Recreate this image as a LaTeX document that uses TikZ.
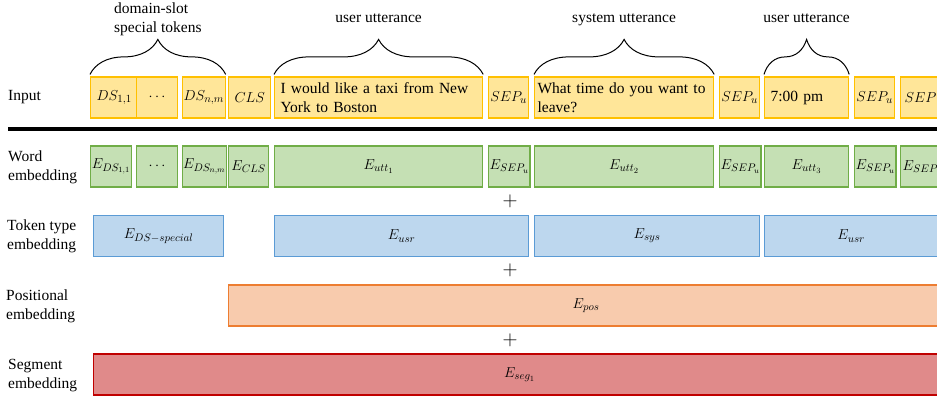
\documentclass[tikz,border=0pt]{standalone}
\usepackage{fontspec}
\setmainfont{Liberation Serif}
\DeclareMathSizes{15.5}{14.4}{10.95}{8}
\usetikzlibrary{positioning, decorations.pathreplacing}

\definecolor{inputfill}{HTML}{FFE699}
\definecolor{inputdraw}{HTML}{FFC000}
\definecolor{wordfill}{HTML}{C5E0B4}
\definecolor{worddraw}{HTML}{70AD47}
\definecolor{typefill}{HTML}{BDD7EE}
\definecolor{typedraw}{HTML}{5B9BD5}
\definecolor{posfill}{HTML}{F8CBAD}
\definecolor{posdraw}{HTML}{ED7D31}
\definecolor{segfill}{HTML}{E08A8A}
\definecolor{segdraw}{HTML}{C00000}

\begin{document}
\begin{tikzpicture}[x=1pt, y=-1pt, font=\fontsize{15.5}{19}\selectfont,
    box/.style={minimum height=41pt, inner xsep=6pt, inner ysep=1pt, line width=1.2pt, anchor=west},
    inbox/.style={box, draw=inputdraw, fill=inputfill},
    wordbox/.style={box, draw=worddraw, fill=wordfill},
    typebox/.style={box, draw=typedraw, fill=typefill},
    posbox/.style={box, draw=posdraw, fill=posfill},
    segbox/.style={box, draw=segdraw, fill=segfill},
    rowlabel/.style={anchor=west, align=left, inner sep=0pt},
    brace/.style={decorate, decoration={brace, amplitude=35pt}, line width=1pt},
    bracelabel/.style={above=49pt, inner sep=0pt, text depth=0.25em},
    dslabel/.style={above=38pt, inner sep=0pt, align=left},
    plus/.style={font=\fontsize{20}{20}\selectfont}]
  \useasboundingbox (0,0) rectangle (937,400);

  % row labels
  \node[rowlabel] (lin)   at (8,97.5)  {Input};
  \node[rowlabel] (lword) at (8,167)   {Word\\embedding};
  \node[rowlabel] (ltype) at (7,236.5) {Token type\\embedding};
  \node[rowlabel] (lpos)  at (6,306)   {Positional\\embedding};
  \node[rowlabel] (lseg)  at (8,375.5) {Segment\\embedding};

  % input tokens
  \node[inbox, minimum width=41pt] (ds11) at (90,97.5)  {$DS_{1,1}$};
  \node[inbox, minimum width=41pt] (dsdots) at (136,97.5) {$\cdots$};
  \node[inbox, minimum width=41pt, inner xsep=1pt] (dsnm) at (182,97.5) {$DS_{n,m}$};
  \node[inbox, minimum width=40pt] (cls) at (228,97.5) {$CLS$};
  \node[inbox, text width=196pt, align=left] (utt1) at (274,97.5) {I would like a taxi from New\\York to Boston};
  \node[inbox, minimum width=40pt, inner xsep=1pt] (sep1) at (488,97.5) {$SEP_u$};
  \node[inbox, inner xsep=3pt, text width=173pt, align=left] (utt2) at (534,97.5) {What time do you want to\\leave?};
  \node[inbox, minimum width=40pt, inner xsep=1pt] (sep2) at (719,97.5) {$SEP_u$};
  \node[inbox, text width=72pt, align=left] (utt3) at (764,97.5) {7:00 pm};
  \node[inbox, minimum width=40pt, inner xsep=1pt] (sep3) at (854,97.5) {$SEP_u$};
  \node[inbox, minimum width=50pt, inner xsep=4pt, text width=42pt, align=left] (sep4) at (900,97.5) {$SEP$};

  % braces over the input
  \draw[brace] ([yshift=2pt]ds11.north west) -- node[dslabel] {domain-slot\\special tokens} ([yshift=2pt]dsnm.north east);
  \draw[brace] ([yshift=2pt]utt1.north west) -- node[bracelabel] {user utterance} ([yshift=2pt]utt1.north east);
  \draw[brace] ([yshift=2pt]utt2.north west) -- node[bracelabel] {system utterance} ([yshift=2pt]utt2.north east);
  \draw[brace] ([yshift=2pt]utt3.north west) -- node[bracelabel] {user utterance} ([yshift=2pt]utt3.north east);

  % separator
  \draw[line width=4pt] (8,128.5) -- (945,128.5);

  % word embedding
  \node[wordbox, minimum width=41pt, inner xsep=1pt] (eds11) at (90,166.5) {$E_{DS_{1,1}}$};
  \node[wordbox, minimum width=41pt] (edsdots) at (136,166.5) {$\cdots$};
  \node[wordbox, minimum width=41pt, inner xsep=0.5pt] (edsnm) at (182,166.5) {$E_{DS_{n,m}}$};
  \node[wordbox, minimum width=40pt, inner xsep=1pt] (ecls) at (228,166.5) {$E_{CLS}$};
  \node[wordbox, minimum width=208pt] (eutt1) at (274,166.5) {$E_{utt_1}$};
  \node[wordbox, minimum width=40pt, inner xsep=1pt] (esep1) at (488,166.5) {$E_{SEP_u}$};
  \node[wordbox, minimum width=179pt] (eutt2) at (534,166.5) {$E_{utt_2}$};
  \node[wordbox, minimum width=40pt, inner xsep=1pt] (esep2) at (719,166.5) {$E_{SEP_u}$};
  \node[wordbox, minimum width=84pt] (eutt3) at (764,166.5) {$E_{utt_3}$};
  \node[wordbox, minimum width=40pt, inner xsep=1pt] (esep3) at (854,166.5) {$E_{SEP_u}$};
  \node[wordbox, minimum width=50pt, inner xsep=2pt, text width=46pt, align=left] (esep4) at (900,166.5) {$E_{SEP}$};

  \node[plus] (plus1) at (510,201) {$+$};

  % token type embedding
  \node[typebox, minimum width=130pt] (edsspec) at (93,236) {$E_{DS-special}$};
  \node[typebox, minimum width=254pt] (eusr1) at (274,236) {$E_{usr}$};
  \node[typebox, minimum width=225pt] (esys) at (534,236) {$E_{sys}$};
  \node[typebox, minimum width=173pt] (eusr2) at (764,236) {$E_{usr}$};

  \node[plus] (plus2) at (510,270.5) {$+$};

  % positional embedding
  \node[posbox, minimum width=715pt] (epos) at (228,305.5) {$E_{pos}$};

  \node[plus] (plus3) at (510,340.5) {$+$};

  % segment embedding
  \node[segbox, minimum width=852pt] (eseg) at (93,374.5) {$E_{seg_1}$};
\end{tikzpicture}
\end{document}
